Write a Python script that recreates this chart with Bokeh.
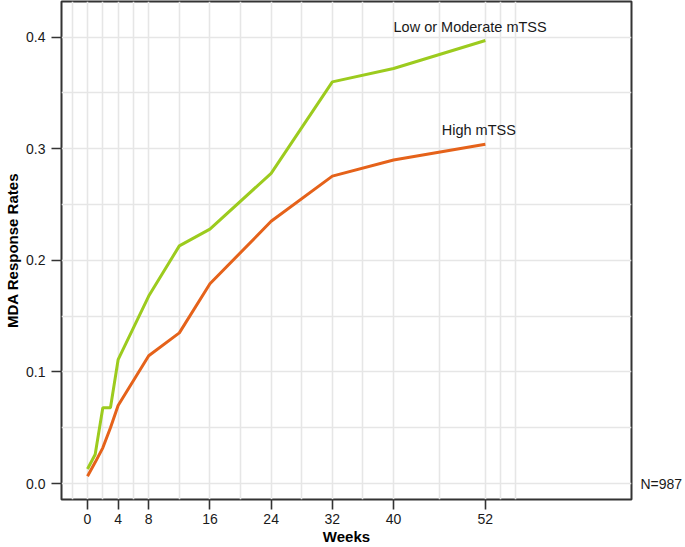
from bokeh.plotting import figure
from bokeh.models import FixedTicker, Range1d, Label, LinearAxis
from bokeh.embed import file_html
from bokeh.resources import INLINE

# ---- data ----
weeks = [0, 1, 2, 3, 4, 8, 12, 16, 24, 32, 40, 52]
low_moderate = [0.013, 0.026, 0.068, 0.068, 0.111, 0.168, 0.213, 0.228, 0.278, 0.360, 0.372, 0.397]
high = [0.0065, 0.019, 0.032, 0.050, 0.070, 0.1145, 0.135, 0.179, 0.235, 0.2755, 0.290, 0.304]

x_ticks = [0, 4, 8, 16, 24, 32, 40, 52]
x_grid = [-2, 0, 2, 4, 6, 8, 12, 16, 20, 24, 28, 32, 36, 40, 46, 52, 54, 56]
y_ticks = [0.0, 0.1, 0.2, 0.3, 0.4]
y_tick_labels = ["0.0", "0.1", "0.2", "0.3", "0.4"]
y_grid = [0.0, 0.05, 0.1, 0.15, 0.2, 0.25, 0.3, 0.35, 0.4]

series_names = ["Low or Moderate mTSS", "High mTSS"]
series_label_pos = [(40.0, 0.409), (46.3, 0.3166)]
n_text = "N=987"

GREEN = "#9ccb1e"
ORANGE = "#e5621a"
FONT = "Liberation Sans"

p = figure(width=685, height=547, output_backend="svg", toolbar_location=None,
           x_range=Range1d(-3.4, 71.1), y_range=Range1d(-0.0143, 0.432),
           min_border_left=61, min_border_right=40, min_border_top=1, min_border_bottom=44)

p.background_fill_color = "white"
p.border_fill_color = "white"
p.outline_line_color = "#333333"
p.outline_line_width = 2

# grids
p.xgrid.ticker = FixedTicker(ticks=x_grid)
p.ygrid.ticker = FixedTicker(ticks=y_grid)
for g in (p.xgrid, p.ygrid):
    g.grid_line_color = "#e6e6e6"
    g.grid_line_width = 1.6

# right axis carrying the sample-size note at y = 0
n_axis = LinearAxis(ticker=FixedTicker(ticks=[0.0]), major_label_overrides={0.0: n_text})
p.add_layout(n_axis, "right")

# axes
p.xaxis.ticker = FixedTicker(ticks=x_ticks)
p.yaxis[0].ticker = FixedTicker(ticks=y_ticks)
p.yaxis[0].major_label_overrides = {t: s for t, s in zip(y_ticks, y_tick_labels)}
for ax in (p.xaxis[0], p.yaxis[0], n_axis):
    ax.axis_line_color = None
    ax.major_tick_out = 10
    ax.major_tick_in = 0
    ax.major_tick_line_color = "#333333"
    ax.major_tick_line_width = 1.6
    ax.minor_tick_line_color = None
    ax.major_label_text_font = FONT
    ax.major_label_text_font_size = "14px"
    ax.major_label_text_color = "#1a1a1a"
    ax.axis_label_text_font = FONT
    ax.axis_label_text_font_size = "15px"
    ax.axis_label_text_font_style = "bold"
    ax.axis_label_text_color = "black"

n_axis.major_tick_line_color = None
n_axis.major_tick_out = 0
n_axis.major_label_standoff = 9

p.xaxis.axis_label = "Weeks"
p.xaxis.major_label_standoff = 4
p.xaxis.axis_label_standoff = 1
p.yaxis[0].axis_label = "MDA Response Rates"
p.yaxis[0].major_label_standoff = 6
p.yaxis[0].axis_label_standoff = 2

# lines
p.line(weeks, low_moderate, line_color=GREEN, line_width=3)
p.line(weeks, high, line_color=ORANGE, line_width=3)

# series labels
for name, (lx, ly) in zip(series_names, series_label_pos):
    p.add_layout(Label(x=lx, y=ly, text=name, text_font=FONT, text_font_size="14.5px",
                       text_color="#1a1a1a", text_align="left", text_baseline="middle"))

open("out.html", "w").write(file_html(p, INLINE))
